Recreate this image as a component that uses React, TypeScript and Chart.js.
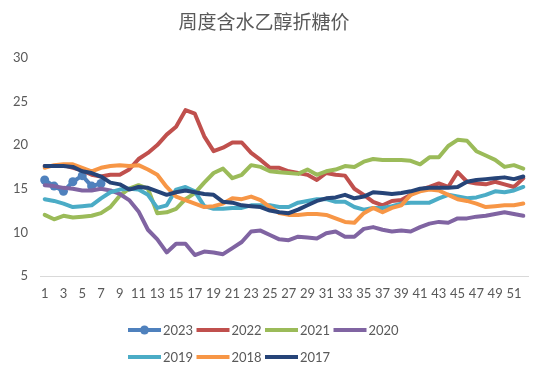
import React, { useEffect, useRef } from 'react';
import { Chart, registerables } from 'chart.js';

Chart.register(...registerables);

const titleText = '周度含水乙醇折糖价';

const weeks = [
  '1', '2', '3', '4', '5', '6', '7', '8', '9', '10',
  '11', '12', '13', '14', '15', '16', '17', '18', '19', '20',
  '21', '22', '23', '24', '25', '26', '27', '28', '29', '30',
  '31', '32', '33', '34', '35', '36', '37', '38', '39', '40',
  '41', '42', '43', '44', '45', '46', '47', '48', '49', '50',
  '51', '52',
];

const seriesNames = ['2023', '2022', '2021', '2020', '2019', '2018', '2017'];
const seriesColors = ['#4F81BD', '#C0504D', '#9BBB59', '#8064A2', '#4BACC6', '#F79646', '#264478'];

const y2023 = [16.0, 15.3, 14.7, 15.8, 16.5, 15.3, 15.6];

const y2022 = [
  17.6, 17.6, 17.7, 17.4, 17.1, 16.6, 16.4, 16.6, 16.6, 17.2,
  18.4, 19.1, 20.0, 21.2, 22.1, 24.0, 23.6, 21.0, 19.3, 19.7,
  20.3, 20.3, 19.1, 18.3, 17.4, 17.4, 17.0, 16.8, 16.6, 16.0,
  16.8, 16.6, 16.5, 15.0, 14.3, 13.5, 13.1, 13.6, 13.7, 14.3,
  14.9, 15.2, 15.6, 15.2, 16.9, 15.8, 15.6, 15.5, 15.8, 15.5,
  15.2, 16.2,
];

const y2021 = [
  12.0, 11.5, 11.9, 11.7, 11.8, 11.9, 12.2, 12.9, 14.2, 15.0,
  15.4, 15.0, 12.2, 12.3, 12.7, 13.8, 14.5, 15.7, 16.8, 17.3,
  16.2, 16.6, 17.7, 17.5, 17.0, 16.9, 16.8, 16.7, 17.2, 16.6,
  17.0, 17.2, 17.6, 17.5, 18.1, 18.4, 18.3, 18.3, 18.3, 18.2,
  17.8, 18.6, 18.6, 19.9, 20.6, 20.5, 19.3, 18.8, 18.3, 17.5,
  17.7, 17.3,
];

const y2020 = [
  15.4, 15.3, 15.1, 15.0, 14.8, 14.8, 15.0, 14.8, 14.4, 13.7,
  12.4, 10.3, 9.2, 7.7, 8.7, 8.7, 7.4, 7.8, 7.7, 7.5,
  8.2, 8.9, 10.1, 10.2, 9.7, 9.2, 9.1, 9.5, 9.4, 9.3,
  9.9, 10.1, 9.5, 9.5, 10.4, 10.6, 10.3, 10.1, 10.2, 10.1,
  10.6, 11.0, 11.2, 11.1, 11.6, 11.6, 11.8, 11.9, 12.1, 12.3,
  12.1, 11.9,
];

const y2019 = [
  13.8, 13.6, 13.3, 12.9, 13.0, 13.1, 13.9, 14.6, 14.9, 15.0,
  14.9, 14.3, 12.8, 13.1, 14.9, 15.2, 14.7, 13.0, 12.7, 12.7,
  12.8, 12.8, 13.1, 13.1, 13.1, 12.9, 12.9, 13.4, 13.6, 13.8,
  13.8, 13.5, 13.5, 12.9, 12.6, 12.8, 12.8, 13.0, 13.3, 13.4,
  13.4, 13.4, 13.9, 14.3, 14.1, 13.9, 14.0, 14.3, 14.7, 14.6,
  14.8, 15.2,
];

const y2018 = [
  17.4, 17.7, 17.8, 17.8, 17.4, 17.0, 17.4, 17.6, 17.7, 17.6,
  17.7, 17.2, 16.6, 15.2, 14.1, 13.7, 13.3, 12.9, 13.0, 13.3,
  13.9, 13.8, 14.1, 13.7, 12.9, 12.2, 12.0, 12.0, 12.1, 12.1,
  12.0, 11.6, 11.2, 11.1, 12.2, 12.8, 12.3, 12.8, 13.1, 14.3,
  14.7, 14.9, 14.8, 14.3, 13.8, 13.6, 13.3, 12.9, 13.0, 13.1,
  13.1, 13.3,
];

const y2017 = [
  17.6, 17.6, 17.6, 17.5, 17.0, 16.8, 16.4, 15.7, 15.5, 14.9,
  15.2, 15.1, 14.7, 14.3, 14.6, 14.8, 14.6, 14.4, 14.3, 13.5,
  13.4, 13.1, 13.0, 12.9, 12.5, 12.3, 12.2, 12.6, 13.1, 13.6,
  13.9, 14.0, 14.3, 13.9, 14.1, 14.6, 14.5, 14.4, 14.5, 14.7,
  15.0, 15.1, 15.1, 15.1, 15.2, 15.8, 16.0, 16.1, 16.2, 16.3,
  16.1, 16.4,
];

const yTickMin = 5;
const yTickMax = 30;
const yTickStep = 5;

const seriesValues = [y2023, y2022, y2021, y2020, y2019, y2018, y2017];

const TEXT_COLOR = '#595959';
const TICK_FONT = { family: 'Lato', size: 13 };

const excelLegend = {
  id: 'excelLegend',
  afterDraw(chart: any) {
    const ctx = chart.ctx as CanvasRenderingContext2D;
    const area = chart.chartArea;
    const colW = 68.5;
    const lineLen = 33;
    const startX = chart.width / 2 - 2 * colW - 10;
    const rowY = [area.bottom + 54, area.bottom + 81];
    ctx.save();
    ctx.font = '13px Lato';
    ctx.textBaseline = 'middle';
    ctx.textAlign = 'left';
    chart.data.datasets.forEach((ds: any, i: number) => {
      const row = Math.floor(i / 4);
      const col = i % 4;
      const x = startX + col * colW;
      const y = rowY[row];
      ctx.strokeStyle = ds.borderColor;
      ctx.lineWidth = 4;
      ctx.lineCap = 'butt';
      ctx.beginPath();
      ctx.moveTo(x, y);
      ctx.lineTo(x + lineLen, y);
      ctx.stroke();
      if (ds.pointRadius > 0) {
        ctx.fillStyle = ds.pointBackgroundColor;
        ctx.beginPath();
        ctx.arc(x + lineLen / 2, y, 4.5, 0, Math.PI * 2);
        ctx.fill();
      }
      ctx.fillStyle = TEXT_COLOR;
      ctx.fillText(ds.label, x + lineLen + 2, y + 0.5);
    });
    ctx.restore();
  },
};

export default function App() {
  const ref = useRef<HTMLCanvasElement>(null);

  useEffect(() => {
    if (!ref.current) return;
    const datasets = seriesNames.map((name, i) => ({
      label: name,
      data: seriesValues[i],
      borderColor: seriesColors[i],
      backgroundColor: seriesColors[i],
      borderWidth: 4,
      pointRadius: i === 0 ? 4.5 : 0,
      pointBackgroundColor: seriesColors[i],
      pointBorderColor: seriesColors[i],
      pointBorderWidth: 0,
      pointHoverRadius: 0,
      tension: 0,
      fill: false,
      order: seriesNames.length - i,
      borderJoinStyle: 'round' as const,
      borderCapStyle: 'round' as const,
    }));

    const chart = new Chart(ref.current, {
      type: 'line',
      data: { labels: weeks, datasets },
      plugins: [excelLegend],
      options: {
        responsive: false,
        animation: false,
        layout: { padding: { left: 0, right: 22, top: 0, bottom: 75 } },
        plugins: {
          legend: { display: false },
          tooltip: { enabled: false },
          title: {
            display: true,
            text: titleText,
            color: TEXT_COLOR,
            font: { family: '"Noto Sans CJK SC"', size: 19, weight: 'normal' },
            padding: { top: 10, bottom: 25 },
          },
        },
        scales: {
          x: {
            type: 'category',
            offset: true,
            grid: { display: false, drawTicks: false },
            border: { display: true, color: '#D9D9D9', width: 1 },
            ticks: {
              autoSkip: false,
              maxRotation: 0,
              minRotation: 0,
              padding: 10,
              color: TEXT_COLOR,
              font: TICK_FONT,
              callback: (_v: any, i: number) => (i % 2 === 0 ? weeks[i] : ''),
            },
            afterFit: (s: any) => {
              s.height = 30;
            },
          },
          y: {
            min: yTickMin,
            max: yTickMax,
            ticks: { stepSize: yTickStep, padding: 12, color: TEXT_COLOR, font: TICK_FONT },
            grid: { display: false, drawTicks: false },
            border: { display: false },
            afterFit: (s: any) => {
              s.width = 40;
            },
          },
        },
      },
    });
    return () => chart.destroy();
  }, []);

  return (
    <div style={{ position: 'absolute', left: 0, top: 0, width: 550, height: 381, background: '#fff' }}>
      <canvas ref={ref} width={550} height={381} />
    </div>
  );
}
